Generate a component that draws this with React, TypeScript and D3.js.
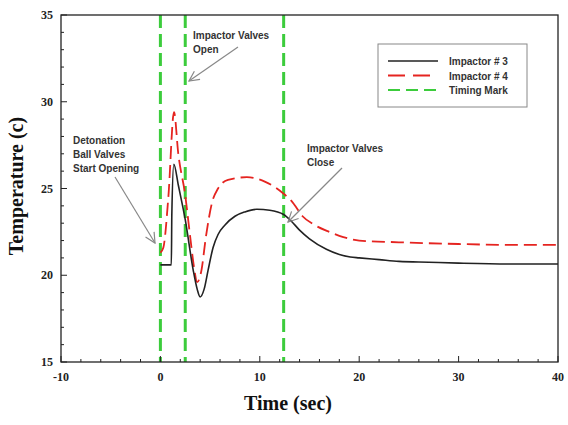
import * as d3 from "d3";

// Impactor #3 (solid black)
const t3 = [0, 1.1, 1.15, 1.35, 1.8, 2.5, 3.3, 3.7, 4.0, 4.4, 4.8, 5.3, 5.8, 6.5, 7.5, 8.5, 9.7, 11, 12.4, 13.2, 14.0, 15, 16.7, 18, 19.1, 20, 22, 24, 27, 30, 35, 40];
const v3 = [20.6, 20.6, 23.5, 26.4, 25.2, 23.2, 20.3, 19.2, 18.75, 19.2, 20.3, 21.6, 22.35, 22.9, 23.4, 23.65, 23.8, 23.75, 23.5, 23.1, 22.6, 22.1, 21.5, 21.2, 21.05, 21.0, 20.9, 20.8, 20.75, 20.7, 20.65, 20.65];

// Impactor #4 (dashed red)
const t4 = [0, 0.3, 0.8, 1.37, 1.8, 2.5, 3.0, 3.4, 3.7, 4.1, 4.6, 5.2, 5.8, 6.8, 8.7, 10.5, 12.4, 13.3, 14.3, 15.5, 17, 18.4, 20, 24, 30, 35, 40];
const v4 = [21.3, 21.6, 24.5, 29.4, 27.0, 24.6, 22.2, 20.4, 19.6, 20.2, 22.3, 24.2, 25.0, 25.5, 25.65, 25.4, 24.7, 24.2, 23.4, 22.9, 22.5, 22.2, 22.0, 21.9, 21.8, 21.75, 21.75];

const timingMarks = [0, 2.5, 12.4];
const xTicks = [-10, 0, 10, 20, 30, 40];
const yTicks = [15, 20, 25, 30, 35];
const legendLabels = ["Impactor # 3", "Impactor # 4", "Timing Mark"];

const width = 568;
const height = 425;
const marginLeft = 61;
const marginRight = 10;
const marginTop = 15;
const marginBottom = 63;

export default function App() {
  const x = d3.scaleLinear().domain([-10, 40]).range([marginLeft, width - marginRight]);
  const y = d3.scaleLinear().domain([15, 35]).range([height - marginBottom, marginTop]);

  const path3 = d3
    .line<number>()
    .x((_, i) => x(t3[i]))
    .y((d) => y(d))
    .curve(d3.curveMonotoneX)(v3);
  const path4 = d3
    .line<number>()
    .x((_, i) => x(t4[i]))
    .y((d) => y(d))
    .curve(d3.curveMonotoneX)(v4);

  const xMinor = d3.range(-10, 40.01, 2);
  const yMinor = d3.range(15, 35.01, 1);
  const y0 = y(15);
  const y1 = y(35);
  const x0 = x(-10);
  const x1 = x(40);

  const serif = "'Liberation Serif', 'Times New Roman', serif";
  const sans = "'Liberation Sans', Arial, sans-serif";
  const annot = "#333";

  const legendX = 378;
  const legendY = 44;
  const legendStyles = [
    { stroke: "#222", dash: "none", w: 1.6 },
    { stroke: "#e52420", dash: "17 8", w: 1.8 },
    { stroke: "#3ccc3c", dash: "12 6", w: 2.2 },
  ];

  return (
    <svg
      width={width}
      height={height}
      style={{ position: "absolute", left: 0, top: 0, background: "#fff" }}
    >
      <defs>
        <marker id="arrow" viewBox="0 0 12 12" refX="11" refY="6" markerWidth="12" markerHeight="12" orient="auto" markerUnits="userSpaceOnUse">
          <path d="M1,1 L11,6 L1,11" fill="none" stroke="#888" strokeWidth="1.2" />
        </marker>
      </defs>

      {/* timing marks */}
      {timingMarks.map((t) => (
        <line key={t} x1={x(t)} x2={x(t)} y1={y1} y2={y0} stroke="#3ccc3c" strokeWidth={3} strokeDasharray="13 6" />
      ))}

      {/* series */}
      <path d={path4 ?? ""} fill="none" stroke="#e52420" strokeWidth={1.8} strokeDasharray="13 6" />
      <path d={path3 ?? ""} fill="none" stroke="#222" strokeWidth={1.6} />

      {/* frame */}
      <rect x={x0} y={y1} width={x1 - x0} height={y0 - y1} fill="none" stroke="#222" strokeWidth={1.3} />

      {/* ticks */}
      {xMinor.map((t) => (
        <line key={"xm" + t} x1={x(t)} x2={x(t)} y1={y0} y2={y0 - (t % 10 === 0 ? 6 : 3)} stroke="#222" strokeWidth={1} />
      ))}
      {yMinor.map((t) => (
        <line key={"ym" + t} x1={x0} x2={x0 + (t % 5 === 0 ? 6 : 3)} y1={y(t)} y2={y(t)} stroke="#222" strokeWidth={1} />
      ))}
      {xTicks.map((t) => (
        <text key={"xt" + t} x={x(t)} y={y0 + 19} textAnchor="middle" fontFamily={serif} fontWeight="bold" fontSize={12} fill="#222">
          {t}
        </text>
      ))}
      {yTicks.map((t) => (
        <text key={"yt" + t} x={x0 - 8} y={y(t) + 4} textAnchor="end" fontFamily={serif} fontWeight="bold" fontSize={12} fill="#222">
          {t}
        </text>
      ))}

      {/* axis titles */}
      <text x={288} y={410} textAnchor="middle" fontFamily={serif} fontWeight="bold" fontSize={20} fill="#111">
        Time (sec)
      </text>
      <text transform={`translate(23,186) rotate(-90)`} textAnchor="middle" fontFamily={serif} fontWeight="bold" fontSize={20} fill="#111">
        Temperature (c)
      </text>

      {/* legend */}
      <rect x={legendX} y={legendY} width={149} height={63} fill="#fff" stroke="#888" strokeWidth={1} />
      {legendLabels.map((label, i) => (
        <g key={label}>
          <line x1={legendX + 10} x2={legendX + 60} y1={legendY + 17 + i * 14.5} y2={legendY + 17 + i * 14.5} stroke={legendStyles[i].stroke} strokeWidth={legendStyles[i].w} strokeDasharray={legendStyles[i].dash} />
          <text x={legendX + 71} y={legendY + 21 + i * 14.5} fontFamily={sans} fontWeight="bold" fontSize={10} fill={annot}>
            {label}
          </text>
        </g>
      ))}

      {/* annotations */}
      <g fontFamily={sans} fontWeight="bold" fontSize={10} fill={annot}>
        <text x={193} y={39}>Impactor Valves</text>
        <text x={193} y={53}>Open</text>
        <text x={73} y={144}>Detonation</text>
        <text x={73} y={158}>Ball Valves</text>
        <text x={73} y={172}>Start Opening</text>
        <text x={307} y={152}>Impactor Valves</text>
        <text x={307} y={166}>Close</text>
      </g>
      <line x1={238} y1={47} x2={189} y2={81} stroke="#888" strokeWidth={1.2} markerEnd="url(#arrow)" />
      <line x1={115} y1={177} x2={155} y2={243} stroke="#888" strokeWidth={1.2} markerEnd="url(#arrow)" />
      <line x1={342} y1={168} x2={288} y2={222} stroke="#888" strokeWidth={1.2} markerEnd="url(#arrow)" />
    </svg>
  );
}
